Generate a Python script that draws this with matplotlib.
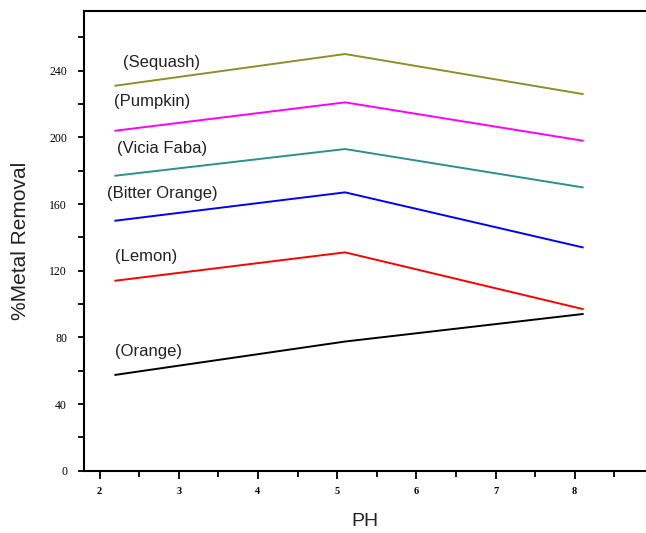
import matplotlib.pyplot as plt
from matplotlib.ticker import MultipleLocator

# pH values where removal was measured
ph = [2.2, 5.1, 8.1]

# % metal removal for each biosorbent (stacked values as plotted)
sequash = [231, 250, 226]
pumpkin = [204, 221, 198]
vicia_faba = [177, 193, 170]
bitter_orange = [150, 167, 134]
lemon = [114, 131, 97]
orange = [57.5, 77.5, 94]

series_names = ['(Sequash)', '(Pumpkin)', '(Vicia Faba)', '(Bitter Orange)', '(Lemon)', '(Orange)']
series_values = [sequash, pumpkin, vicia_faba, bitter_orange, lemon, orange]
series_colors = ['#8f8f2a', '#ff00ff', '#2a9090', '#0000ff', '#ff0000', '#000000']

# where each name is written next to its line
label_x = [2.29, 2.18, 2.22, 2.10, 2.19, 2.19]
label_y = [245, 221.5, 193.5, 166.5, 128.5, 71.5]

fig = plt.figure(figsize=(6.46, 5.33), dpi=100)
ax = fig.add_axes([83.7 / 646, 1 - 470.7 / 533, 1 - 83.7 / 646, (470.7 - 10.7) / 533])

for vals, color in zip(series_values, series_colors):
    ax.plot(ph, vals, color=color, linewidth=1.4)

for name, x, y in zip(series_names, label_x, label_y):
    ax.text(x, y, name, fontsize=12, family='Liberation Sans', color='#222222',
            ha='left', va='center')

ax.set_xlim(1.8, 8.9)
ax.set_ylim(0, 276)
ax.xaxis.set_major_locator(MultipleLocator(1))
ax.xaxis.set_minor_locator(MultipleLocator(0.5))
ax.yaxis.set_major_locator(MultipleLocator(40))
ax.yaxis.set_minor_locator(MultipleLocator(20))

ax.spines['right'].set_visible(False)
for side in ['left', 'bottom', 'top']:
    ax.spines[side].set_linewidth(1.5)

ax.tick_params(axis='x', which='major', direction='out', length=6, width=1.3, pad=6)
ax.tick_params(axis='x', which='minor', direction='out', length=4, width=1.3)
ax.tick_params(axis='y', which='major', direction='out', length=4, width=1.3, pad=8)
ax.tick_params(axis='y', which='minor', direction='out', length=4, width=1.3)
ax.tick_params(right=False, top=False, which='both')

for lbl in ax.get_xticklabels():
    lbl.set_fontsize(7.5)
    lbl.set_fontweight('bold')
    lbl.set_family('Liberation Serif')
for lbl in ax.get_yticklabels():
    lbl.set_fontsize(8.5)
    lbl.set_family('Liberation Serif')

ax.set_xlabel('PH', fontsize=14, family='Liberation Sans', color='#222222', labelpad=12)
ax.set_ylabel('%Metal Removal', fontsize=15, family='Liberation Sans', color='#222222', labelpad=14)

fig.savefig('out.png', dpi=100)
